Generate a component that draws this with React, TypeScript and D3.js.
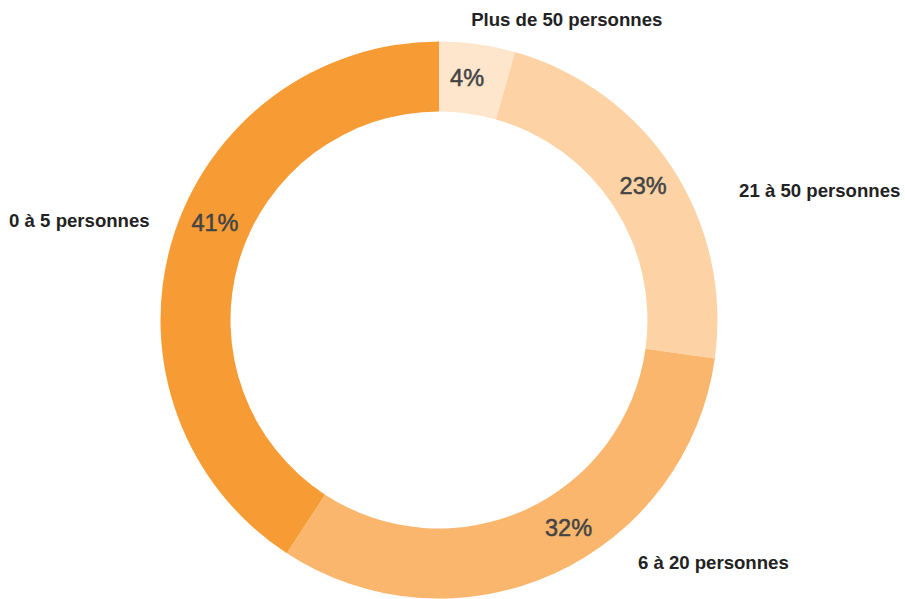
import React from "react";
import * as d3 from "d3";

const categories = ["Plus de 50 personnes", "21 à 50 personnes", "6 à 20 personnes", "0 à 5 personnes"];
const values = [4.4, 22.8, 32, 40.8];
const percentLabels = ["4%", "23%", "32%", "41%"];
const colors = ["#FEE6CC", "#FDD3A6", "#FAB66C", "#F79C34"];
// label placement (angle in degrees from top, clockwise)
const pctAngles = [6.6, 56.6, 148, 293.6];
const catAngles = [23, 66.6, 140.7, 289];
const catRadii = [327, 327, 314, 306];
const catAnchors = ["middle", "start", "start", "end"];

const W = 905;
const H = 599;
const cx = 439;
const cy = 320;
const outerR = 278.5;
const innerR = 208.5;

export default function App() {
  const pie = d3.pie<number>().sort(null).value((d) => d)(values);
  const arc = d3.arc<d3.PieArcDatum<number>>().innerRadius(innerR).outerRadius(outerR);
  const polar = (deg: number, r: number) => {
    const a = (deg * Math.PI) / 180;
    return [r * Math.sin(a), -r * Math.cos(a)];
  };
  const pctR = (innerR + outerR) / 2 + 1;
  return (
    <svg width={W} height={H} style={{ position: "absolute", left: 0, top: 0, background: "#fff" }}
      fontFamily="'Liberation Sans', Arial, Helvetica, sans-serif">
      <g transform={`translate(${cx},${cy})`}>
        {pie.map((p, i) => (
          <path key={i} d={arc(p) || ""} fill={colors[i]} />
        ))}
        {pie.map((p, i) => {
          const [x, y] = polar(pctAngles[i], pctR);
          return (
            <text key={"p" + i} x={x} y={y} dy="0.36em" textAnchor="middle" fontSize={23.5} fill="#444"
              stroke="#444" strokeWidth={0.5}>
              {percentLabels[i]}
            </text>
          );
        })}
        {categories.map((c, i) => {
          const [x, y] = polar(catAngles[i], catRadii[i]);
          return (
            <text key={"c" + i} x={x} y={y} dy="0.35em" textAnchor={catAnchors[i] as any} fontSize={18.6} fontWeight="bold" fill="#222">
              {c}
            </text>
          );
        })}
      </g>
    </svg>
  );
}
